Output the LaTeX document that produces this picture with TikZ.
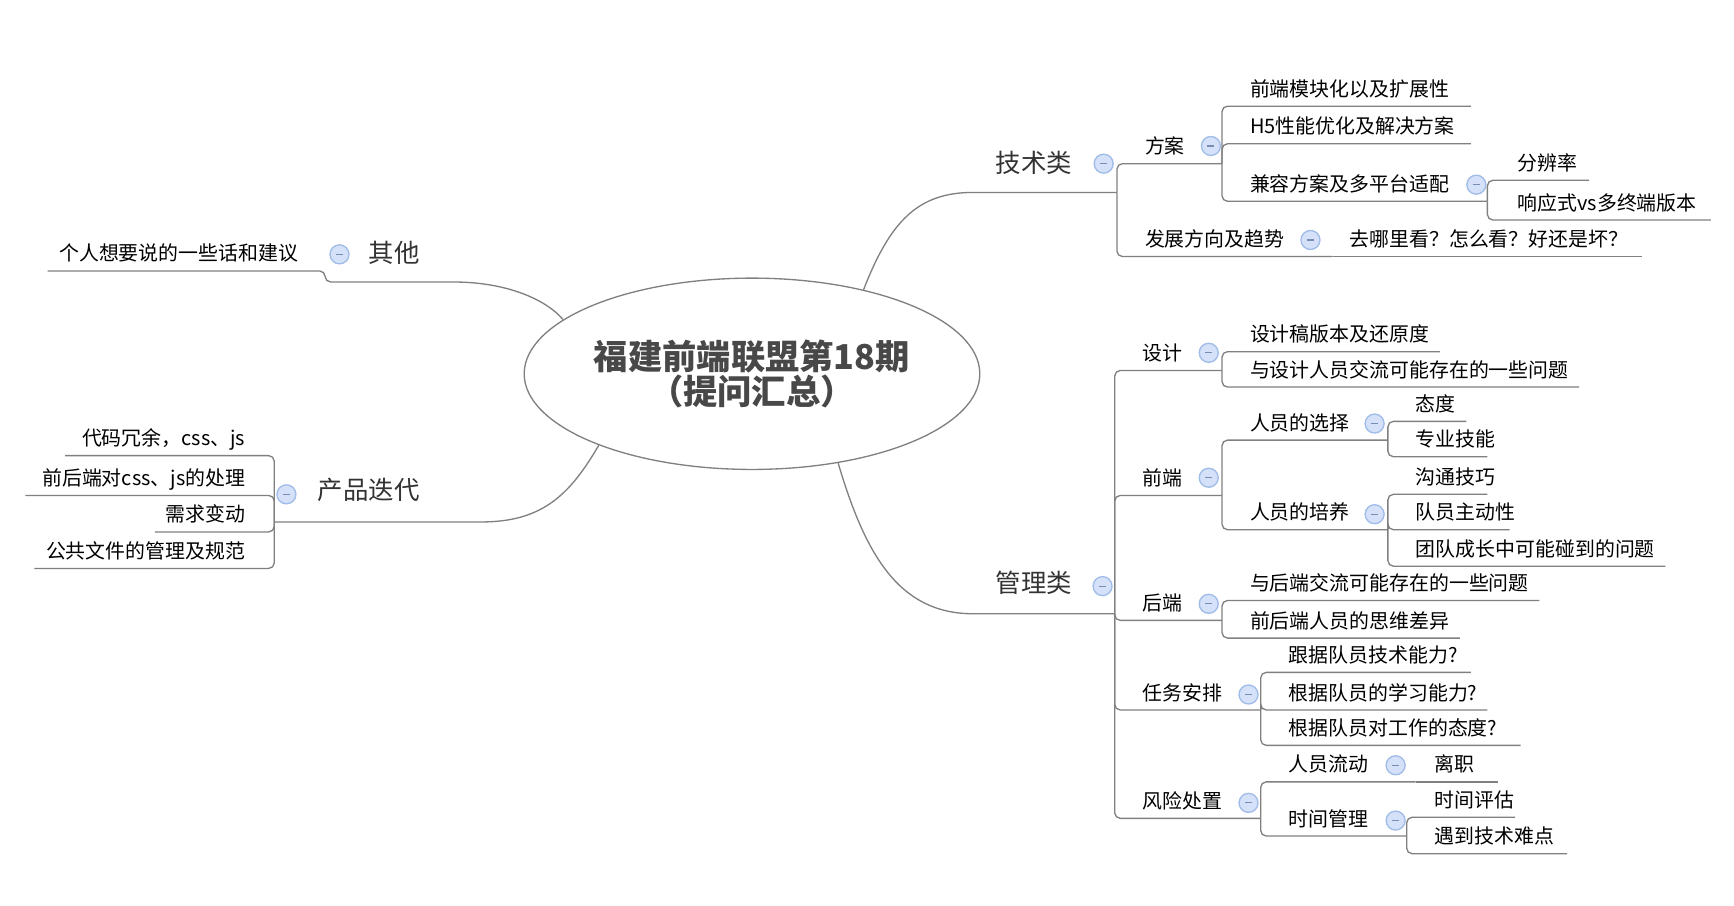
\documentclass[tikz,border=0pt]{standalone}
\usepackage{fontspec}
\setmainfont{Noto Sans CJK SC}
\usetikzlibrary{shapes.geometric}
\definecolor{lnc}{RGB}{128,128,128}
\definecolor{cfill}{RGB}{212,225,248}
\definecolor{cdraw}{RGB}{160,188,232}
\definecolor{cminus}{RGB}{120,140,180}
\definecolor{maintxt}{RGB}{51,51,51}
\definecolor{centtxt}{RGB}{72,72,72}
\newcommand{\mmrt}[5]{\node[item,anchor=base west] (#1) at (#2,#3-9) {#5};\coordinate (#1-e) at (#4,#3);}
\newcommand{\mmlt}[5]{\node[item,anchor=base east] (#1) at (#2,#3-9) {#5};\coordinate (#1-e) at (#4,#3);}
\tikzset{
  item/.style={inner sep=0pt,font=\fontsize{9}{10}\selectfont,text=black},
  maintopic/.style={inner sep=0pt,font=\fontsize{11.5}{13}\selectfont,text=maintxt},
  link/.style={draw=lnc,line width=0.6pt,rounded corners=2.5pt},
  coll/.style={circle,draw=cdraw,fill=cfill,line width=0.6pt,minimum size=8.6pt,inner sep=0pt,
    path picture={\draw[cminus,line width=0.55pt]([xshift=-1.6pt]path picture bounding box.center)--([xshift=1.6pt]path picture bounding box.center);}}
}
\begin{document}
\begin{tikzpicture}[x=0.5pt,y=-0.5pt]
\useasboundingbox (0,0) rectangle (1568,819);
% center
\node[ellipse,draw=lnc,line width=0.6pt,minimum width=206pt,minimum height=86.5pt,inner sep=0pt,fill=white] (center) at (680,338) {};
\node[align=center,inner sep=0pt,text=centtxt,font=\fontsize{15.5}{15.8}\selectfont\bfseries] (centertxt) at (680,338) {福建前端联盟第18期\\（提问汇总）};

% ---------- 技术类 ----------
\node[maintopic,anchor=base west] (jishu) at (900,156) {技术类};
\coordinate (jishu-s) at (885,174);
\coordinate (jishu-e) at (1010,174);
\node[coll] (jishu-c) at (998,148) {};
\mmrt{fangan}{1035}{148}{1105}{方案}
\mmrt{fa1}{1130}{96}{1330}{前端模块化以及扩展性}
\mmrt{fa2}{1130}{130}{1330}{H5性能优化及解决方案}
\mmrt{fa3}{1130}{182}{1345}{兼容方案及多平台适配}
\mmrt{fr1}{1372}{163}{1437}{分辨率}
\mmrt{fr2}{1372}{199}{1547}{响应式vs多终端版本}
\mmrt{fz}{1035}{232}{1205}{发展方向及趋势}
\mmrt{fz1}{1220}{232}{1485}{去哪里看？怎么看？好还是坏？}
\node[coll] (fangan-c) at (1095,132) {};
\node[coll] (fa3-c) at (1335,167) {};
\node[coll] (fz-c) at (1185,217) {};

\draw[link] (center.37) .. controls (805,200) and (830,174) .. (jishu-s) -- (jishu-e);
\draw[link] (jishu-e) |- (fangan-e);
\draw[link] (jishu-e) |- (fz-e);
\draw[link] (fangan-e) |- (fa1-e);
\draw[link] (fangan-e) |- (fa2-e);
\draw[link] (fangan-e) |- (fa3-e);
\draw[link] (fa3-e) |- (fr1-e);
\draw[link] (fa3-e) |- (fr2-e);
\draw[link] (fz-e) -- (fz1-e);

% ---------- 管理类 ----------
\node[maintopic,anchor=base west] (guanli) at (900,536) {管理类};
\coordinate (guanli-s) at (885,555);
\coordinate (guanli-e) at (1008,555);
\node[coll] (guanli-c) at (997,530) {};
\mmrt{sheji}{1033}{335}{1105}{设计}
\mmrt{sj1}{1130}{318}{1302}{设计稿版本及还原度}
\mmrt{sj2}{1130}{350}{1428}{与设计人员交流可能存在的一些问题}
\mmrt{qd}{1033}{448}{1105}{前端}
\mmrt{xz}{1130}{398}{1255}{人员的选择}
\mmrt{xz1}{1280}{381}{1326}{态度}
\mmrt{xz2}{1280}{413}{1345}{专业技能}
\mmrt{py}{1130}{479}{1255}{人员的培养}
\mmrt{py1}{1280}{447}{1345}{沟通技巧}
\mmrt{py2}{1280}{479}{1365}{队员主动性}
\mmrt{py3}{1280}{512}{1506}{团队成长中可能碰到的问题}
\mmrt{hd}{1033}{561}{1105}{后端}
\mmrt{hd1}{1130}{543}{1392}{与后端交流可能存在的一些问题}
\mmrt{hd2}{1130}{577}{1320}{前后端人员的思维差异}
\mmrt{rw}{1033}{642}{1140}{任务安排}
\mmrt{rw1}{1165}{608}{1330}{跟据队员技术能力?}
\mmrt{rw2}{1165}{642}{1345}{根据队员的学习能力?}
\mmrt{rw3}{1165}{674}{1375}{根据队员对工作的态度?}
\mmrt{fx}{1033}{740}{1140}{风险处置}
\mmrt{ld}{1165}{707}{1280}{人员流动}
\mmrt{ld1}{1297}{707}{1355}{离职}
\mmrt{sg}{1165}{756}{1272}{时间管理}
\mmrt{sg1}{1297}{739}{1370}{时间评估}
\mmrt{sg2}{1297}{772}{1417}{遇到技术难点}
\node[coll] (sheji-c) at (1093,319) {};
\node[coll] (qd-c) at (1093,432) {};
\node[coll] (xz-c) at (1243,383) {};
\node[coll] (py-c) at (1243,465) {};
\node[coll] (hd-c) at (1093,546) {};
\node[coll] (rw-c) at (1129,628) {};
\node[coll] (fx-c) at (1129,726) {};
\node[coll] (ld-c) at (1262,692) {};
\node[coll] (sg-c) at (1262,742) {};

\draw[link] (center.314) .. controls (782,500) and (812,555) .. (guanli-s) -- (guanli-e);
\foreach \c in {sheji,qd,hd,rw,fx} \draw[link] (guanli-e) |- (\c-e);
\foreach \c in {sj1,sj2} \draw[link] (sheji-e) |- (\c-e);
\foreach \c in {xz,py} \draw[link] (qd-e) |- (\c-e);
\foreach \c in {xz1,xz2} \draw[link] (xz-e) |- (\c-e);
\foreach \c in {py1,py2,py3} \draw[link] (py-e) |- (\c-e);
\foreach \c in {hd1,hd2} \draw[link] (hd-e) |- (\c-e);
\foreach \c in {rw1,rw2,rw3} \draw[link] (rw-e) |- (\c-e);
\foreach \c in {ld,sg} \draw[link] (fx-e) |- (\c-e);
\draw[link] (ld-e) -- (ld1-e);
\foreach \c in {sg1,sg2} \draw[link] (sg-e) |- (\c-e);

% ---------- 其他 ----------
\node[maintopic,anchor=base west] (qita) at (333,237) {其他};
\coordinate (qita-e) at (294,255);
\coordinate (qita-s) at (405,255);
\node[coll] (qita-c) at (307,230) {};
\mmlt{qt1}{270}{245}{43}{个人想要说的一些话和建议}
\draw[link] (qt1-e) -| (qita-e) -- (qita-s) .. controls (460,255) and (495,272) .. (center.164);

% ---------- 产品迭代 ----------
\node[maintopic,anchor=base west] (cp) at (287,452) {产品迭代};
\coordinate (cp-e) at (248,472);
\coordinate (cp-s) at (430,472);
\node[coll] (cp-c) at (259,447) {};
\mmlt{cp1}{222}{412}{59}{代码冗余，css、js}
\mmlt{cp2}{222}{448}{23}{前后端对css、js的处理}
\mmlt{cp3}{222}{481}{140}{需求变动}
\mmlt{cp4}{222}{514}{31}{公共文件的管理及规范}
\draw[link] (center.205.6) .. controls (515,448) and (490,472) .. (cp-s) -- (cp-e);
\foreach \c in {cp1,cp2,cp3,cp4} \draw[link] (cp-e) |- (\c-e);
\end{tikzpicture}
\end{document}
